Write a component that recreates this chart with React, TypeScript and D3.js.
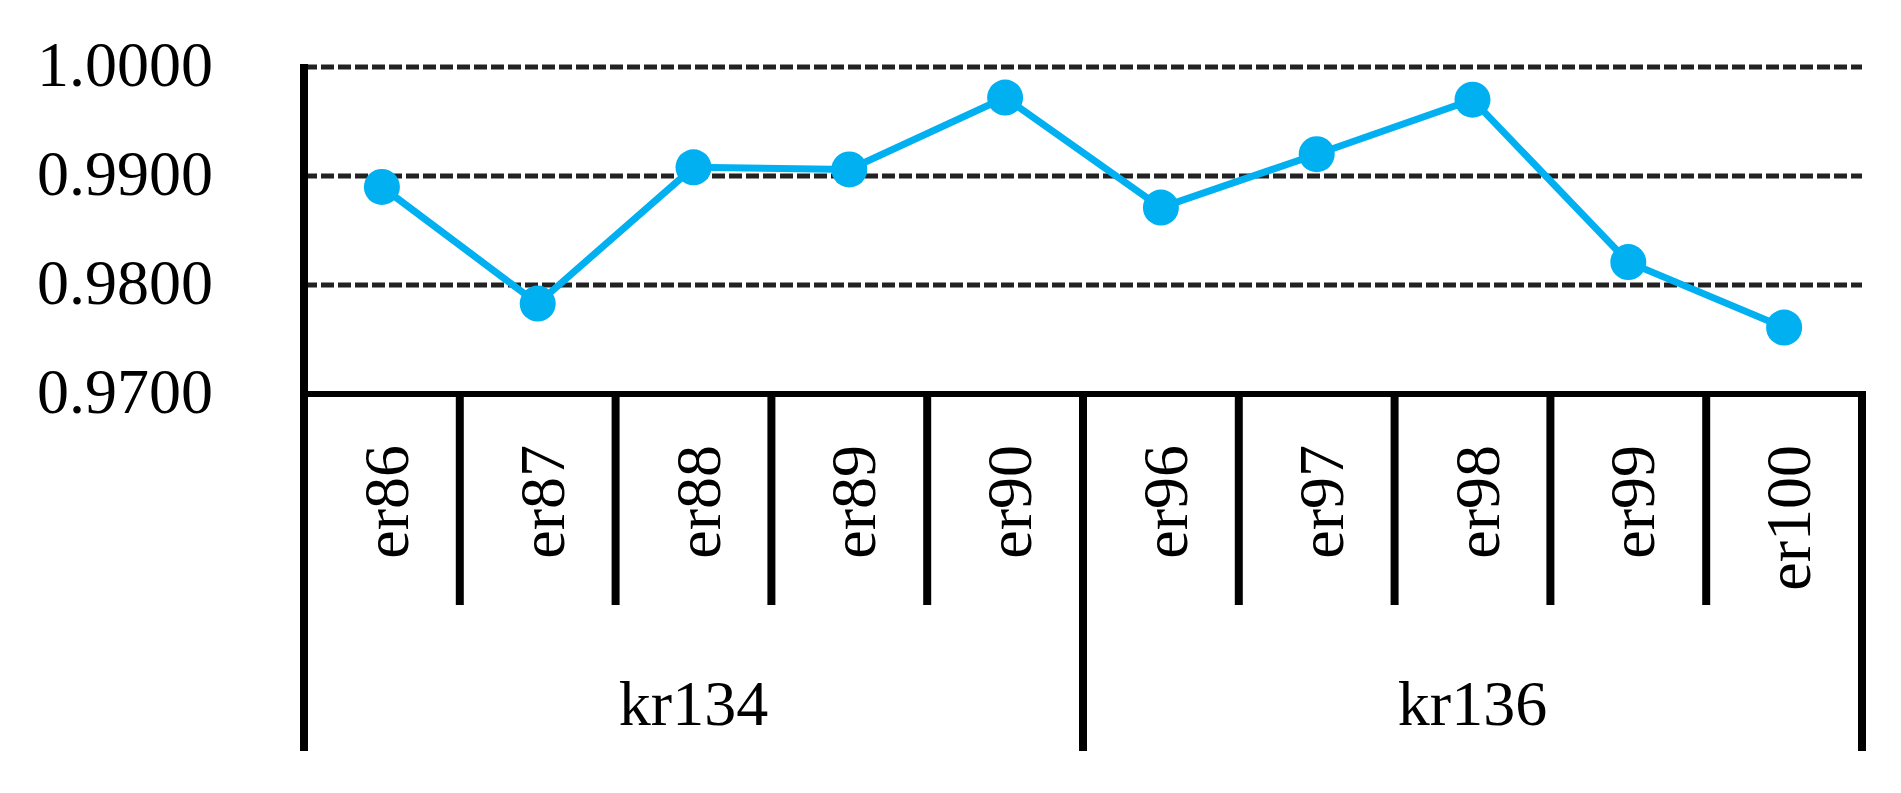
import React, { useEffect, useRef } from "react";
import * as d3 from "d3";

const categories = ["er86", "er87", "er88", "er89", "er90", "er96", "er97", "er98", "er99", "er100"];
const categoryGroups = ["kr134", "kr134", "kr134", "kr134", "kr134", "kr136", "kr136", "kr136", "kr136", "kr136"];
const groups = ["kr134", "kr136"];
const values = [0.989, 0.9783, 0.9908, 0.9906, 0.9972, 0.9871, 0.992, 0.997, 0.9821, 0.9761];
const yTicks = [0.97, 0.98, 0.99, 1.0];

export default function App() {
  const chartRef = useRef<SVGSVGElement>(null);

  useEffect(() => {
    const svg = d3.select(chartRef.current);
    svg.selectAll("*").remove();

    const left = 304;
    const right = 1862;
    const top = 67;
    const base = 394;
    const innerBottom = 605;
    const groupBottom = 751;
    const font = "'Liberation Serif', 'Times New Roman', serif";
    const blue = "#00B0F0";

    const x = d3.scaleBand().domain(categories).range([left, right]).padding(0);
    const y = d3.scaleLinear().domain([0.97, 1.0]).range([base, top]);

    // dashed gridlines
    svg
      .append("g")
      .selectAll("line")
      .data(yTicks.filter((t) => t > 0.97))
      .enter()
      .append("line")
      .attr("x1", left)
      .attr("x2", right)
      .attr("y1", (d) => y(d))
      .attr("y2", (d) => y(d))
      .attr("stroke", "#222")
      .attr("stroke-width", 5)
      .attr("stroke-dasharray", "13,4");

    // y tick labels
    svg
      .append("g")
      .selectAll("text")
      .data(yTicks)
      .enter()
      .append("text")
      .attr("x", 213)
      .attr("y", (d) => y(d) + 19)
      .attr("text-anchor", "end")
      .attr("font-family", font)
      .attr("font-size", 64)
      .attr("fill", "#000")
      .text((d) => d3.format(".4f")(d));

    // left axis + baseline
    svg
      .append("line")
      .attr("x1", left)
      .attr("x2", left)
      .attr("y1", top - 3)
      .attr("y2", groupBottom)
      .attr("stroke", "#000")
      .attr("stroke-width", 8);
    svg
      .append("line")
      .attr("x1", left)
      .attr("x2", right + 4)
      .attr("y1", base)
      .attr("y2", base)
      .attr("stroke", "#000")
      .attr("stroke-width", 6);

    // category separators (longer at group boundaries)
    const bounds = categories.map((c, i) => ({
      xPos: (x(c) as number) + x.bandwidth(),
      isGroupEdge: i === categories.length - 1 || categoryGroups[i] !== categoryGroups[i + 1],
    }));
    svg
      .append("g")
      .selectAll("line")
      .data(bounds)
      .enter()
      .append("line")
      .attr("x1", (d) => d.xPos)
      .attr("x2", (d) => d.xPos)
      .attr("y1", base)
      .attr("y2", (d) => (d.isGroupEdge ? groupBottom : innerBottom))
      .attr("stroke", "#000")
      .attr("stroke-width", 8);

    // category labels, rotated
    svg
      .append("g")
      .selectAll("text")
      .data(categories)
      .enter()
      .append("text")
      .attr("transform", (d) => `translate(${(x(d) as number) + x.bandwidth() / 2 + 26},445) rotate(-90)`)
      .attr("text-anchor", "end")
      .attr("font-family", font)
      .attr("font-size", 64)
      .attr("fill", "#000")
      .text((d) => d);

    // group labels
    svg
      .append("g")
      .selectAll("text")
      .data(groups)
      .enter()
      .append("text")
      .attr("x", (g) => {
        const members = categories.filter((c, i) => categoryGroups[i] === g);
        const x0 = x(members[0]) as number;
        const x1 = (x(members[members.length - 1]) as number) + x.bandwidth();
        return (x0 + x1) / 2;
      })
      .attr("y", 725)
      .attr("text-anchor", "middle")
      .attr("font-family", font)
      .attr("font-size", 64)
      .attr("fill", "#000")
      .text((g) => g);

    // series line + markers
    const line = d3
      .line<number>()
      .x((d, i) => (x(categories[i]) as number) + x.bandwidth() / 2)
      .y((d) => y(d));

    svg
      .append("path")
      .datum(values)
      .attr("d", line)
      .attr("fill", "none")
      .attr("stroke", blue)
      .attr("stroke-width", 7);

    svg
      .append("g")
      .selectAll("circle")
      .data(values)
      .enter()
      .append("circle")
      .attr("cx", (d, i) => (x(categories[i]) as number) + x.bandwidth() / 2)
      .attr("cy", (d) => y(d))
      .attr("r", 18)
      .attr("fill", blue);
  }, []);

  return (
    <div>
      <svg
        ref={chartRef}
        width="1901"
        height="793"
        style={{ position: "absolute", left: 0, top: 0, background: "#fff" }}
      ></svg>
    </div>
  );
}
